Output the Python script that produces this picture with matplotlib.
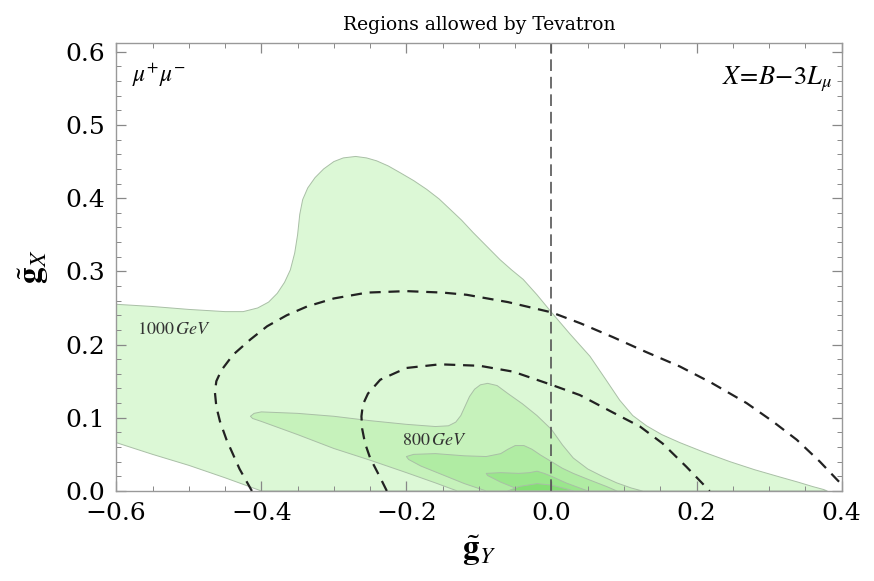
import matplotlib
matplotlib.use("Agg")
import matplotlib.pyplot as plt
from matplotlib.ticker import MultipleLocator

# allowed regions (levels, lightest to darkest), closed outlines in (g_Y, g_X)
region1_x = [-0.6, -0.55, -0.5, -0.45, -0.425, -0.405, -0.39, -0.378, -0.368, -0.36, -0.354,
             -0.350, -0.347, -0.343, -0.336, -0.326, -0.314, -0.300, -0.287, -0.270, -0.255,
             -0.241, -0.225, -0.209, -0.19, -0.172, -0.155, -0.14, -0.124, -0.108, -0.09,
             -0.071, -0.055, -0.039, -0.02, 0.0, 0.025, 0.053, 0.075, 0.094, 0.112, 0.131,
             0.152, 0.177, 0.21, 0.246, 0.28, 0.315, 0.34, 0.36, 0.375, 0.38,
             -0.40, -0.45, -0.5, -0.55, -0.6]
region1_y = [0.255, 0.252, 0.248, 0.245, 0.245, 0.250, 0.258, 0.270, 0.285, 0.302, 0.325,
             0.350, 0.378, 0.398, 0.414, 0.428, 0.440, 0.450, 0.455, 0.457, 0.455,
             0.451, 0.444, 0.435, 0.424, 0.412, 0.399, 0.385, 0.370, 0.353, 0.335,
             0.316, 0.302, 0.289, 0.268, 0.244, 0.215, 0.184, 0.152, 0.124, 0.103, 0.089,
             0.077, 0.066, 0.053, 0.040, 0.029, 0.019, 0.012, 0.006, 0.002, 0.0,
             0.0, 0.018, 0.035, 0.050, 0.066]

region2_x = [-0.415, -0.41, -0.40, -0.35, -0.30, -0.25, -0.20, -0.16, -0.142, -0.132, -0.125,
             -0.119, -0.113, -0.106, -0.098, -0.088, -0.075, -0.06, -0.04, -0.02, 0.0, 0.015,
             0.03, 0.05, 0.07, 0.09, 0.11, 0.125, -0.13, -0.16, -0.20, -0.25, -0.30, -0.35,
             -0.40, -0.412]
region2_y = [0.102, 0.106, 0.108, 0.106, 0.102, 0.096, 0.091, 0.088, 0.089, 0.094, 0.103,
             0.116, 0.129, 0.139, 0.145, 0.147, 0.144, 0.133, 0.119, 0.103, 0.084, 0.063,
             0.045, 0.030, 0.020, 0.011, 0.004, 0.0, 0.0, 0.011, 0.025, 0.042, 0.058, 0.077,
             0.095, 0.099]

region3_x = [-0.20, -0.19, -0.16, -0.12, -0.09, -0.07, -0.06, -0.05, -0.038, -0.027, -0.015,
             0.0, 0.015, 0.03, 0.05, 0.076, 0.09, -0.09, -0.12, -0.15, -0.18, -0.197]
region3_y = [0.047, 0.050, 0.051, 0.048, 0.047, 0.051, 0.057, 0.062, 0.062, 0.057, 0.049,
             0.040, 0.031, 0.024, 0.016, 0.006, 0.0, 0.0, 0.010, 0.022, 0.034, 0.043]

region4_x = [-0.09, -0.07, -0.045, -0.03, -0.02, -0.01, 0.0, 0.02, 0.039, 0.05,
             -0.04, -0.05, -0.07, -0.088]
region4_y = [0.024, 0.025, 0.024, 0.025, 0.027, 0.024, 0.020, 0.011, 0.004, 0.0,
             0.0, 0.004, 0.012, 0.021]

region5_x = [-0.06, -0.045, -0.02, 0.0, 0.02, 0.03]
region5_y = [0.0, 0.006, 0.010, 0.008, 0.003, 0.0]

region_colors = ["#dcf8d6", "#c6f2bb", "#b0eca3", "#9ae68c", "#84df74"]

# mass contours (dashed)
m1000_x = [-0.413, -0.43, -0.448, -0.457, -0.462, -0.464, -0.462, -0.455, -0.439, -0.415,
           -0.392, -0.365, -0.337, -0.30, -0.254, -0.20, -0.15, -0.117, -0.06, 0.0, 0.04,
           0.085, 0.13, 0.177, 0.22, 0.269, 0.305, 0.338, 0.37, 0.394, 0.40]
m1000_y = [0.0, 0.03, 0.07, 0.095, 0.115, 0.135, 0.150, 0.165, 0.186, 0.207,
           0.225, 0.240, 0.252, 0.263, 0.271, 0.273, 0.271, 0.268, 0.258, 0.244, 0.229,
           0.210, 0.190, 0.170, 0.148, 0.120, 0.095, 0.070, 0.040, 0.015, 0.009]

m800_x = [-0.227, -0.236, -0.25, -0.257, -0.261, -0.262, -0.260, -0.253, -0.236, -0.2, -0.154,
          -0.099, -0.053, 0.0, 0.039, 0.085, 0.122, 0.153, 0.186, 0.218]
m800_y = [0.0, 0.018, 0.045, 0.065, 0.085, 0.102, 0.118, 0.133, 0.152, 0.168, 0.173,
          0.171, 0.163, 0.145, 0.131, 0.107, 0.088, 0.065, 0.033, 0.0]

serif = "DejaVu Serif"
plt.rcParams["mathtext.fontset"] = "stix"

fig = plt.figure(figsize=(8.74, 5.81), dpi=100)
ax = fig.add_axes([0.133, 0.155, 0.830, 0.771])

regions = [(region1_x, region1_y), (region2_x, region2_y), (region3_x, region3_y),
           (region4_x, region4_y), (region5_x, region5_y)]
for (rx, ry), col in zip(regions, region_colors):
    ax.fill(rx, ry, facecolor=col, edgecolor="#a9bfa6", linewidth=0.7,
            joinstyle="round", zorder=1)

ax.plot(m1000_x, m1000_y, color="#222222", lw=1.6, dashes=(5, 3.5), zorder=3)
ax.plot(m800_x, m800_y, color="#222222", lw=1.6, dashes=(5, 3.5), zorder=3)
ax.axvline(0.0, color="#555555", lw=1.2, dashes=(7, 3.5), zorder=2)

ax.set_xlim(-0.6, 0.4)
ax.set_ylim(0.0, 0.612)

ax.xaxis.set_major_locator(MultipleLocator(0.2))
ax.xaxis.set_minor_locator(MultipleLocator(0.05))
ax.yaxis.set_major_locator(MultipleLocator(0.1))
ax.yaxis.set_minor_locator(MultipleLocator(0.02))
ax.xaxis.set_major_formatter(plt.FuncFormatter(lambda v, p: f"{v:.1f}".replace("-", "\u2212")))
ax.yaxis.set_major_formatter(plt.FuncFormatter(lambda v, p: f"{v:.1f}"))
ax.tick_params(which="both", direction="in", top=True, right=True, color="#888888")
ax.tick_params(which="major", length=7, width=0.9, labelsize=18, pad=8)
ax.tick_params(which="minor", length=3.5, width=0.7)
for lab in ax.get_xticklabels() + ax.get_yticklabels():
    lab.set_family(serif)
for sp in ax.spines.values():
    sp.set_color("#999999")
    sp.set_linewidth(1.0)

ax.set_xlabel(r"$\tilde{\mathbf{g}}_{Y}$", fontsize=24, labelpad=6)
ax.set_ylabel(r"$\tilde{\mathbf{g}}_{X}$", fontsize=24, labelpad=10)
ax.set_title("Regions allowed by Tevatron", family=serif, fontsize=13.5, pad=9)

ax.text(-0.578, 0.568, r"$\mu^{+}\mu^{-}$", fontsize=17, va="center", ha="left")
ax.text(0.388, 0.563, r"$X\!=\!B\!-\!3L_{\mu}$", fontsize=19, va="center", ha="right")
ax.text(-0.572, 0.221, r"$\mathrm{1000}\,GeV$", fontsize=13, va="center", ha="left", color="#333333")
ax.text(-0.206, 0.070, r"$\mathrm{800}\,GeV$", fontsize=13, va="center", ha="left", color="#333333")

fig.savefig("out.png", dpi=100)
